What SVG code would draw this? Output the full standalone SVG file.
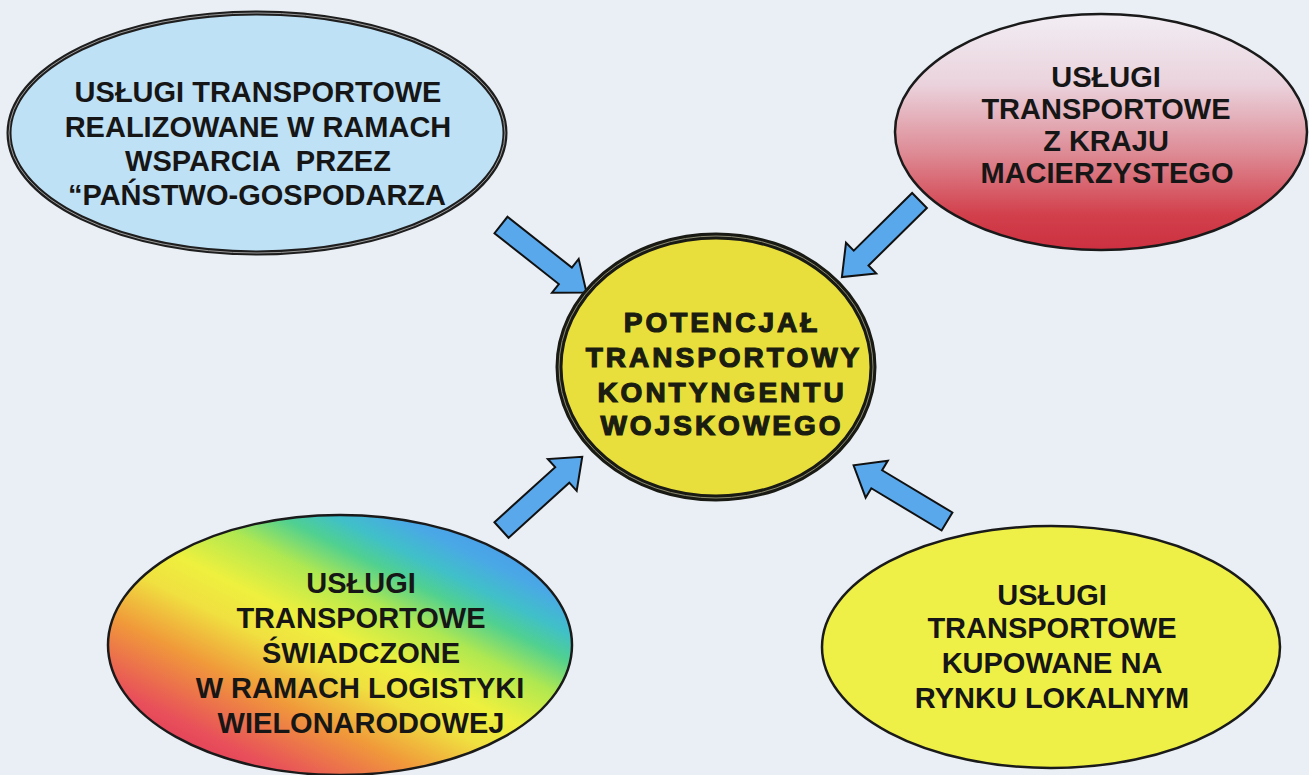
<svg xmlns="http://www.w3.org/2000/svg" width="1309" height="775" viewBox="0 0 1309 775">
<style>
.t{font-family:"Liberation Sans",Arial,sans-serif;font-weight:bold;font-size:29px;fill:#161616;text-anchor:middle}
.c{font-family:"Liberation Sans",Arial,sans-serif;font-weight:bold;font-size:28px;fill:#1a1d10;stroke:#1a1d10;stroke-width:1.2;letter-spacing:3px;text-anchor:middle}
.arr{fill:#5aa8ec;stroke:#111;stroke-width:2;stroke-linejoin:miter}
</style>
<defs>
<linearGradient id="gRed" x1="0" y1="0" x2="0" y2="1">
<stop offset="0" stop-color="#f2eef4"/>
<stop offset="0.3" stop-color="#ead2dc"/>
<stop offset="0.6" stop-color="#dd8892"/>
<stop offset="0.85" stop-color="#d2404c"/>
<stop offset="1" stop-color="#cc3040"/>
</linearGradient>
<linearGradient id="gRainbow" gradientUnits="userSpaceOnUse" x1="150" y1="745" x2="306" y2="432">
<stop offset="0" stop-color="#e03a5a"/>
<stop offset="0.1" stop-color="#e8505a"/>
<stop offset="0.28" stop-color="#f09a3a"/>
<stop offset="0.42" stop-color="#f0e040"/>
<stop offset="0.52" stop-color="#eef03e"/>
<stop offset="0.65" stop-color="#b0e850"/>
<stop offset="0.75" stop-color="#50d090"/>
<stop offset="0.82" stop-color="#40c0c8"/>
<stop offset="0.9" stop-color="#4aa8e6"/>
<stop offset="1" stop-color="#4a98e8"/>
</linearGradient>
<polygon id="arrow" points="0,-10.5 82,-10.5 82,-21.5 109,0 82,21.5 82,10.5 0,10.5"/>
</defs>
<rect x="0" y="0" width="1309" height="775" fill="#e9eff4"/>

<g id="connectors">
<use href="#arrow" class="arr" transform="translate(501,225) rotate(38.3)"/>
<use href="#arrow" class="arr" transform="translate(919.5,200.5) rotate(135.4)"/>
<use href="#arrow" class="arr" transform="translate(501.5,530) rotate(-42.2)"/>
<use href="#arrow" class="arr" transform="translate(947,521.5) rotate(-149)"/>
</g>

<g id="node-host-nation">
<ellipse cx="257" cy="133" rx="248" ry="120" fill="#bfe1f6" stroke="#1e1e1e" stroke-width="5"/>
<ellipse cx="257" cy="133" rx="248" ry="120" fill="none" stroke="#9a9a9a" stroke-width="1"/>
<text class="t" x="258" y="102">USŁUGI TRANSPORTOWE</text>
<text class="t" x="258" y="137">REALIZOWANE W RAMACH</text>
<text class="t" x="258" y="171" style="white-space:pre">WSPARCIA  PRZEZ</text>
<text class="t" x="257" y="205">“PAŃSTWO-GOSPODARZA</text>
</g>

<g id="node-home-country">
<ellipse cx="1101" cy="132" rx="206" ry="118" fill="url(#gRed)" stroke="#1a1a1a" stroke-width="2.5"/>
<text class="t" x="1106" y="87">USŁUGI</text>
<text class="t" x="1106" y="119">TRANSPORTOWE</text>
<text class="t" x="1106" y="151">Z KRAJU</text>
<text class="t" x="1107" y="183">MACIERZYSTEGO</text>
</g>

<g id="node-center">
<ellipse cx="716" cy="367" rx="157" ry="131" fill="#e9df3c" stroke="#1a1a14" stroke-width="7"/>
<ellipse cx="716" cy="367" rx="157" ry="131" fill="none" stroke="#8a8a70" stroke-width="1"/>
<text class="c" x="722" y="332">POTENCJAŁ</text>
<text class="c" x="724" y="367">TRANSPORTOWY</text>
<text class="c" x="722" y="402">KONTYNGENTU</text>
<text class="c" x="722" y="435">WOJSKOWEGO</text>
</g>

<g id="node-multinational">
<ellipse cx="340" cy="645" rx="232" ry="130" fill="url(#gRainbow)" stroke="#1a1a1a" stroke-width="2.5"/>
<text class="t" x="361" y="593">USŁUGI</text>
<text class="t" x="361" y="628">TRANSPORTOWE</text>
<text class="t" x="361" y="663">ŚWIADCZONE</text>
<text class="t" x="360" y="698">W RAMACH LOGISTYKI</text>
<text class="t" x="361" y="733">WIELONARODOWEJ</text>
</g>

<g id="node-local-market">
<ellipse cx="1051" cy="647" rx="229" ry="121" fill="#eef048" stroke="#1a1a1a" stroke-width="2.5"/>
<text class="t" x="1052" y="605">USŁUGI</text>
<text class="t" x="1052" y="638">TRANSPORTOWE</text>
<text class="t" x="1052" y="673">KUPOWANE NA</text>
<text class="t" x="1052" y="708">RYNKU LOKALNYM</text>
</g>
</svg>
